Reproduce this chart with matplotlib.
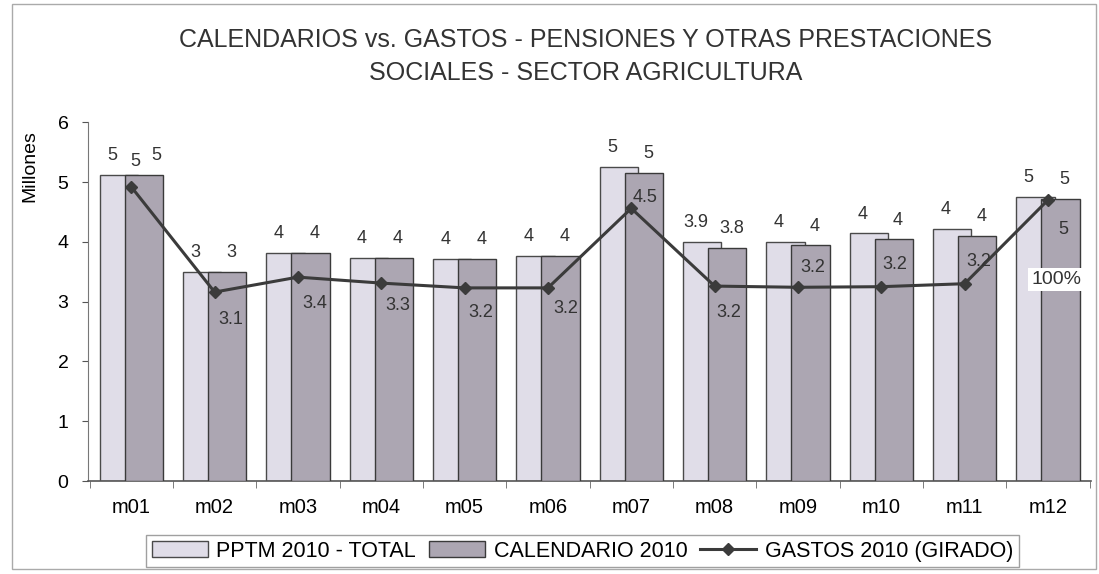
import numpy as np
import matplotlib.pyplot as plt
from matplotlib.patches import Rectangle

plt.rcParams['font.family'] = ['Liberation Sans', 'DejaVu Sans']

# datos
meses = ["m01", "m02", "m03", "m04", "m05", "m06",
         "m07", "m08", "m09", "m10", "m11", "m12"]
pptm = [5.12, 3.50, 3.81, 3.73, 3.71, 3.76, 5.25, 4.00, 4.00, 4.14, 4.22, 4.75]
calendario = [5.12, 3.50, 3.81, 3.73, 3.71, 3.76, 5.15, 3.90, 3.94, 4.04, 4.10, 4.72]
gastos = [4.92, 3.16, 3.41, 3.31, 3.23, 3.23, 4.56, 3.26, 3.24, 3.25, 3.30, 4.70]

lab_pptm = ["5", "3", "4", "4", "4", "4", "5", "3.9", "4", "4", "4", "5"]
lab_cal = ["5", "3", "4", "4", "4", "4", "5", "3.8", "4", "4", "4", "5"]
lab_gastos = ["5", "3.1", "3.4", "3.3", "3.2", "3.2", "4.5", "3.2", "3.2", "3.2", "3.2", "5"]

# desplazamiento de las etiquetas de la linea (puntos)
off_gastos = [(3, 18), (12, -20), (12, -19), (12, -16), (12, -18), (13, -15),
              (10, 8), (10, -19), (11, 14), (10, 16), (10, 16), (11, -21)]

x = np.arange(len(meses))
c_pptm = "#e0dde8"
c_cal = "#aca6b2"
c_line = "#3b3b3b"

fig = plt.figure(figsize=(10.99, 5.74), dpi=100)
ax = fig.add_axes([0.080, 0.162, 0.913, 0.625])

b1 = ax.bar(x - 0.15, pptm, width=0.46, color=c_pptm, edgecolor="#4a4a4a",
            linewidth=1.0, label="PPTM 2010 - TOTAL", zorder=2)
b2 = ax.bar(x + 0.15, calendario, width=0.46, color=c_cal, edgecolor="#3a3a3a",
            linewidth=1.0, label="CALENDARIO 2010", zorder=3)
ln, = ax.plot(x, gastos, color=c_line, lw=2.2, marker="D", markersize=6,
              label="GASTOS 2010 (GIRADO)", zorder=4)

for i in range(len(meses)):
    ax.text(x[i] - 0.23, pptm[i] + 0.18, lab_pptm[i], ha="center", va="bottom",
            fontsize=13, color="#333333")
    dx = 0.3 if i == 0 else 0.2
    ax.text(x[i] + dx, calendario[i] + 0.18, lab_cal[i], ha="center", va="bottom",
            fontsize=13, color="#333333")
    ax.annotate(lab_gastos[i], (x[i], gastos[i]), xytext=off_gastos[i],
                textcoords="offset points", ha="center", va="center",
                fontsize=13, color="#333333", zorder=5)

ax.annotate("100%", (x[-1], gastos[-1]), xytext=(6, -57), textcoords="offset points",
            ha="center", va="center", fontsize=14, color="#333333", zorder=6,
            bbox=dict(boxstyle="square,pad=0.15", fc="white", ec="none"))

ax.set_xlim(-0.52, 11.52)
ax.set_ylim(0, 6)
ax.set_yticks(range(0, 7))
ax.tick_params(axis="y", labelsize=14, length=4, color="#555555", pad=10)
ax.set_xticks(x)
ax.set_xticklabels(meses, fontsize=14.5)
ax.tick_params(axis="x", length=0, pad=12)
ax.set_xticks(np.arange(-0.5, 12, 1), minor=True)
ax.tick_params(axis="x", which="minor", length=5, color="#666666")

for s in ["top", "right"]:
    ax.spines[s].set_visible(False)
ax.spines["left"].set_color("#777777")
ax.spines["bottom"].set_color("#555555")
ax.spines["bottom"].set_linewidth(1.2)

fig.text(0.027, 0.71, "Millones", rotation=90, ha="center", va="center", fontsize=14)

fig.text(0.533, 0.93, "CALENDARIOS vs. GASTOS - PENSIONES Y OTRAS PRESTACIONES",
         ha="center", va="center", fontsize=18, color="#333333")
fig.text(0.533, 0.873, "SOCIALES - SECTOR AGRICULTURA",
         ha="center", va="center", fontsize=18, color="#333333")

leg = fig.legend(handles=[b1, b2, ln], loc="center", bbox_to_anchor=(0.53, 0.04),
                 ncol=3, fontsize=15.5, frameon=True, fancybox=False,
                 handlelength=2.6, columnspacing=0.6, handletextpad=0.4,
                 borderpad=0.25, edgecolor="#888888")
leg.get_frame().set_linewidth(1.0)

fig.patches.append(Rectangle((0.011, 0.008), 0.986, 0.985, transform=fig.transFigure,
                             fill=False, ec="#aaaaaa", lw=1.0))

plt.savefig("out.png", dpi=100)
